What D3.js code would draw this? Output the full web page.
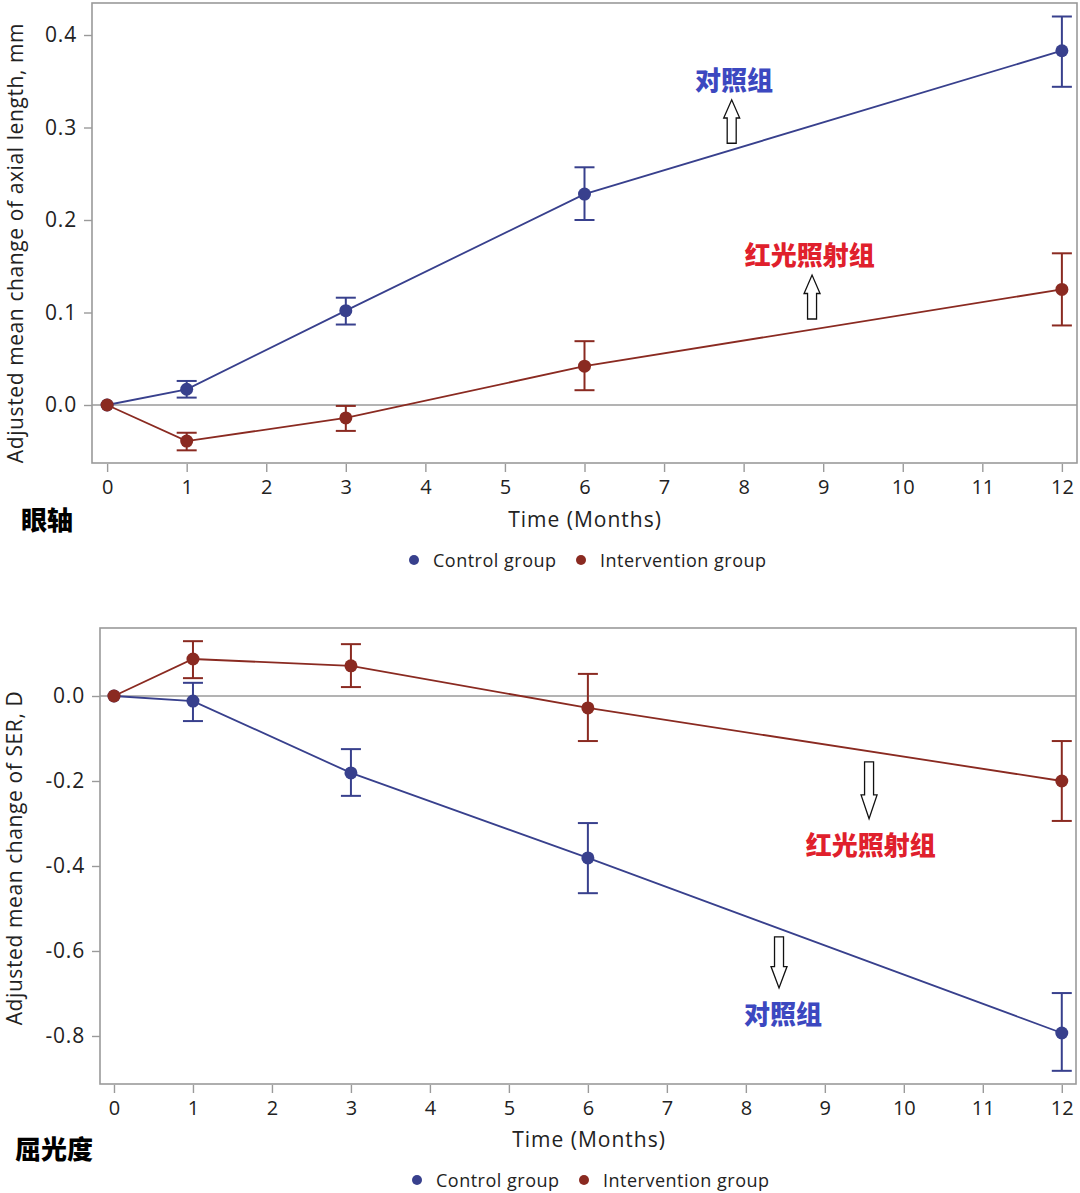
<!DOCTYPE html>
<html>
<head>
<meta charset="utf-8">
<script src="https://cdn.jsdelivr.net/npm/d3@7"></script>
<style>
  html, body { margin: 0; padding: 0; background: #fff; }
  svg { display: block; }
</style>
</head>
<body>
<svg id="chart" width="1080" height="1193"></svg>
<script>
// ---------- DATA ----------
const months = [0, 1, 3, 6, 12];
const xTicks = [0, 1, 2, 3, 4, 5, 6, 7, 8, 9, 10, 11, 12];
const seriesNames = ["Control group", "Intervention group"];

// Axial length (mm)
const alControl      = [0, 0.017, 0.102, 0.228, 0.383];
const alControlLo    = [0, 0.008, 0.087, 0.200, 0.344];
const alControlHi    = [0, 0.026, 0.116, 0.257, 0.420];
const alInterv       = [0, -0.039, -0.014, 0.042, 0.125];
const alIntervLo     = [0, -0.049, -0.028, 0.016, 0.086];
const alIntervHi     = [0, -0.030, -0.001, 0.069, 0.164];
const alYTicks = [0.0, 0.1, 0.2, 0.3, 0.4];

// SER (D)
const serControl     = [0, -0.012, -0.181, -0.381, -0.793];
const serControlLo   = [0, -0.059, -0.235, -0.464, -0.882];
const serControlHi   = [0, 0.031, -0.125, -0.299, -0.699];
const serInterv      = [0, 0.087, 0.071, -0.028, -0.200];
const serIntervLo    = [0, 0.042, 0.021, -0.106, -0.294];
const serIntervHi    = [0, 0.129, 0.122, 0.052, -0.106];
const serYTicks = [-0.8, -0.6, -0.4, -0.2, 0.0];

// annotations: [label, month, value, group] and arrows [month, fromValue, toValue]
const alNotes  = [["对照组", 7.88, 0.353, "ctl"], ["红光照射组", 8.83, 0.164, "int"]];
const alArrows = [[7.85, 0.283, 0.330], [8.86, 0.093, 0.1405]];
const serNotes  = [["红光照射组", 9.58, -0.346, "int"], ["对照组", 8.47, -0.744, "ctl"]];
const serArrows = [[9.56, -0.155, -0.289], [8.42, -0.567, -0.687]];

// ---------- STYLE ----------
const C_CTL = "#38408d";
const C_INT = "#8a2a21";
const C_NOTE = { ctl: "#3c48c0", int: "#e0202c" };
const FRAME = "#9a9a9a";
const LATIN = "'Open Sans', 'DejaVu Sans', sans-serif";
const CJK = "'Noto Sans CJK SC', sans-serif";
const fmtY = v => d3.format(".1f")(v).replace("\u2212", "-");

const svg = d3.select("#chart");

function build(cfg) {
  const x = d3.scaleLinear().domain(cfg.xDomain).range([cfg.left, cfg.right]);
  const y = d3.scaleLinear().domain(cfg.yDomain).range([cfg.bottom, cfg.top]);
  const g = svg.append("g");

  // frame
  g.append("rect")
    .attr("x", cfg.left).attr("y", cfg.top)
    .attr("width", cfg.right - cfg.left).attr("height", cfg.bottom - cfg.top)
    .attr("fill", "none").attr("stroke", FRAME).attr("stroke-width", 1.6);

  // y axis
  const ya = g.append("g").attr("transform", `translate(${cfg.left},0)`)
    .call(d3.axisLeft(y).tickValues(cfg.yTicks).tickFormat(fmtY).tickSize(8).tickPadding(7));
  ya.select(".domain").remove();
  ya.selectAll(".tick line").attr("stroke", FRAME).attr("stroke-width", 1.4);
  ya.selectAll(".tick text").attr("font-family", LATIN).attr("font-size", 21)
    .attr("letter-spacing", 0.8).attr("fill", "#222");

  // x axis
  const xa = g.append("g").attr("transform", `translate(0,${cfg.bottom + 1})`)
    .call(d3.axisBottom(x).tickValues(xTicks).tickFormat(d3.format("d")).tickSize(8).tickPadding(8));
  xa.select(".domain").remove();
  xa.selectAll(".tick line").attr("stroke", FRAME).attr("stroke-width", 1.4);
  xa.selectAll(".tick text").attr("font-family", LATIN).attr("font-size", 20).attr("fill", "#222");

  // zero line
  g.append("line")
    .attr("x1", cfg.left).attr("x2", cfg.right)
    .attr("y1", y(0)).attr("y2", y(0))
    .attr("stroke", FRAME).attr("stroke-width", 1.4);

  // series
  const line = d3.line().x(d => x(d.m)).y(d => y(d.v));
  cfg.series.forEach(s => {
    const pts = months.map((m, i) => ({ m, v: s.v[i], lo: s.lo[i], hi: s.hi[i] }));
    g.append("path").datum(pts).attr("d", line)
      .attr("fill", "none").attr("stroke", s.color).attr("stroke-width", 1.8);
    const eb = g.append("g");
    pts.filter(p => p.hi !== p.lo).forEach(p => {
      eb.append("line").attr("x1", x(p.m)).attr("x2", x(p.m)).attr("y1", y(p.lo)).attr("y2", y(p.hi))
        .attr("stroke", s.color).attr("stroke-width", 2);
      [p.lo, p.hi].forEach(v => {
        eb.append("line").attr("x1", x(p.m) - 10).attr("x2", x(p.m) + 10).attr("y1", y(v)).attr("y2", y(v))
          .attr("stroke", s.color).attr("stroke-width", 2);
      });
    });
    g.selectAll(null).data(pts).enter().append("circle")
      .attr("cx", d => x(d.m)).attr("cy", d => y(d.v)).attr("r", 6.5)
      .attr("fill", s.color);
  });

  // arrows (hollow block arrows)
  cfg.arrows.forEach(([m, v0, v1]) => {
    const cx = x(m), y0 = y(v0), y1 = y(v1);
    const dir = y1 < y0 ? -1 : 1;
    const len = Math.abs(y1 - y0);
    const headLen = len * 0.42, sw = 4.5, hw = 8;
    const yNeck = y1 - dir * headLen;
    const p = [
      [cx - sw, y0], [cx - sw, yNeck], [cx - hw, yNeck], [cx, y1],
      [cx + hw, yNeck], [cx + sw, yNeck], [cx + sw, y0]
    ];
    g.append("path").attr("d", "M" + p.map(q => q.join(",")).join("L") + "Z")
      .attr("fill", "#fff").attr("stroke", "#111").attr("stroke-width", 1.3);
  });

  // notes
  cfg.notes.forEach(([t, m, v, k]) => {
    g.append("text").attr("x", x(m)).attr("y", y(v)).attr("text-anchor", "middle")
      .attr("dominant-baseline", "central")
      .attr("font-family", CJK).attr("font-weight", 900).attr("font-size", 26)
      .attr("fill", C_NOTE[k]).text(t);
  });

  // y title
  g.append("text")
    .attr("transform", `translate(${cfg.yTitleX},${cfg.yTitleY}) rotate(-90)`)
    .attr("text-anchor", "middle").attr("dominant-baseline", "central")
    .attr("font-family", LATIN).attr("font-size", 21).attr("letter-spacing", 0.6).attr("fill", "#222")
    .text(cfg.yTitle);

  // x title
  g.append("text").attr("x", cfg.xTitleX).attr("y", cfg.xTitleY)
    .attr("text-anchor", "middle").attr("dominant-baseline", "central")
    .attr("font-family", LATIN).attr("font-size", 21).attr("letter-spacing", 1).attr("fill", "#222")
    .text("Time (Months)");

  // panel label
  g.append("text").attr("x", cfg.panelX).attr("y", cfg.panelY)
    .attr("dominant-baseline", "central")
    .attr("font-family", CJK).attr("font-weight", 900).attr("font-size", 26)
    .attr("fill", "#000").text(cfg.panel);

  // legend
  const lg = g.append("g");
  const lx = [cfg.legX, cfg.legX + 167];
  seriesNames.forEach((n, i) => {
    lg.append("circle").attr("cx", lx[i]).attr("cy", cfg.legY).attr("r", 5)
      .attr("fill", i === 0 ? C_CTL : C_INT);
    lg.append("text").attr("x", lx[i] + 19).attr("y", cfg.legY)
      .attr("dominant-baseline", "central")
      .attr("font-family", LATIN).attr("font-size", 18).attr("letter-spacing", 0.5)
      .attr("fill", "#222").text(n);
  });
}

build({
  left: 92, right: 1077, top: 3, bottom: 463,
  xDomain: [-0.19, 12.19], yDomain: [-0.0627, 0.4346], yTicks: alYTicks,
  series: [
    { v: alControl, lo: alControlLo, hi: alControlHi, color: C_CTL },
    { v: alInterv, lo: alIntervLo, hi: alIntervHi, color: C_INT }
  ],
  arrows: alArrows, notes: alNotes,
  yTitle: "Adjusted mean change of axial length, mm", yTitleX: 15, yTitleY: 243,
  xTitleX: 585, xTitleY: 519,
  panel: "眼轴", panelX: 21, panelY: 518,
  legX: 414, legY: 560
});

build({
  left: 100, right: 1076, top: 628, bottom: 1084,
  xDomain: [-0.177, 12.18], yDomain: [-0.913, 0.16], yTicks: serYTicks,
  series: [
    { v: serControl, lo: serControlLo, hi: serControlHi, color: C_CTL },
    { v: serInterv, lo: serIntervLo, hi: serIntervHi, color: C_INT }
  ],
  arrows: serArrows, notes: serNotes,
  yTitle: "Adjusted mean change of SER, D", yTitleX: 14, yTitleY: 858,
  xTitleX: 589, xTitleY: 1139,
  panel: "屈光度", panelX: 15, panelY: 1147,
  legX: 417, legY: 1180
});
</script>
</body>
</html>
